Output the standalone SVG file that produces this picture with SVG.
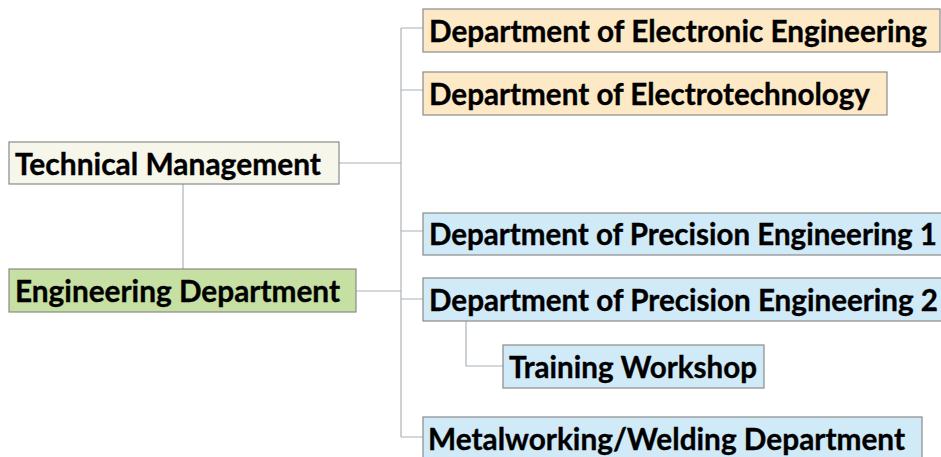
<svg xmlns="http://www.w3.org/2000/svg" width="941" height="457" viewBox="0 0 941 457">
<style>
.box{stroke:#8a8a8a;stroke-width:1.2}
.tm{fill:#f6f6ea}
.ed{fill:#c6dfa2}
.or{fill:#fde9c6}
.bl{fill:#d0eaf8}
.lbl{font-family:Lato,"Open Sans","Liberation Sans",sans-serif;font-weight:bold;font-size:29.5px;fill:#000;stroke:#000;stroke-width:0.35}
.conn{stroke:#a9b2ba;stroke-width:1.2;fill:none}
</style>
<rect width="941" height="457" fill="#ffffff"/>
<g id="connectors">
<path class="conn" d="M183 184V269"/>
<path class="conn" d="M339 163H401"/>
<path class="conn" d="M356 291H401"/>
<path class="conn" d="M401 28V437"/>
<path class="conn" d="M401 28H423M401 90H423M401 231H423M401 299H423M401 437H423"/>
<path class="conn" d="M466 321V366H503"/>
</g>
<g id="technical-management">
<rect class="box tm" x="9" y="142" width="330" height="42"/>
<text class="lbl" x="15" y="174.5" textLength="306" lengthAdjust="spacingAndGlyphs">Technical Management</text>
</g>
<g id="engineering-department">
<rect class="box ed" x="9" y="269" width="347" height="43"/>
<text class="lbl" x="15" y="301.5" textLength="325" lengthAdjust="spacingAndGlyphs">Engineering Department</text>
</g>
<g id="electronic-engineering">
<rect class="box or" x="423" y="9" width="517" height="43"/>
<text class="lbl" x="429" y="41.5" textLength="498" lengthAdjust="spacingAndGlyphs">Department of Electronic Engineering</text>
</g>
<g id="electrotechnology">
<rect class="box or" x="423" y="72" width="464" height="43"/>
<text class="lbl" x="429" y="104.5" textLength="441" lengthAdjust="spacingAndGlyphs">Department of Electrotechnology</text>
</g>
<g id="precision-1">
<rect class="box bl" x="423" y="213" width="520" height="42"/>
<text class="lbl" x="429" y="244.5" textLength="508" lengthAdjust="spacingAndGlyphs">Department of Precision Engineering 1</text>
</g>
<g id="precision-2">
<rect class="box bl" x="423" y="278" width="520" height="43"/>
<text class="lbl" x="429" y="310.5" textLength="509" lengthAdjust="spacingAndGlyphs">Department of Precision Engineering 2</text>
</g>
<g id="training-workshop">
<rect class="box bl" x="503" y="345" width="261" height="43"/>
<text class="lbl" x="509" y="377.5" textLength="248" lengthAdjust="spacingAndGlyphs">Training Workshop</text>
</g>
<g id="metalworking-welding">
<rect class="box bl" x="423" y="417" width="499" height="50"/>
<text class="lbl" x="428" y="449.5" textLength="477" lengthAdjust="spacingAndGlyphs">Metalworking/Welding Department</text>
</g>
</svg>
